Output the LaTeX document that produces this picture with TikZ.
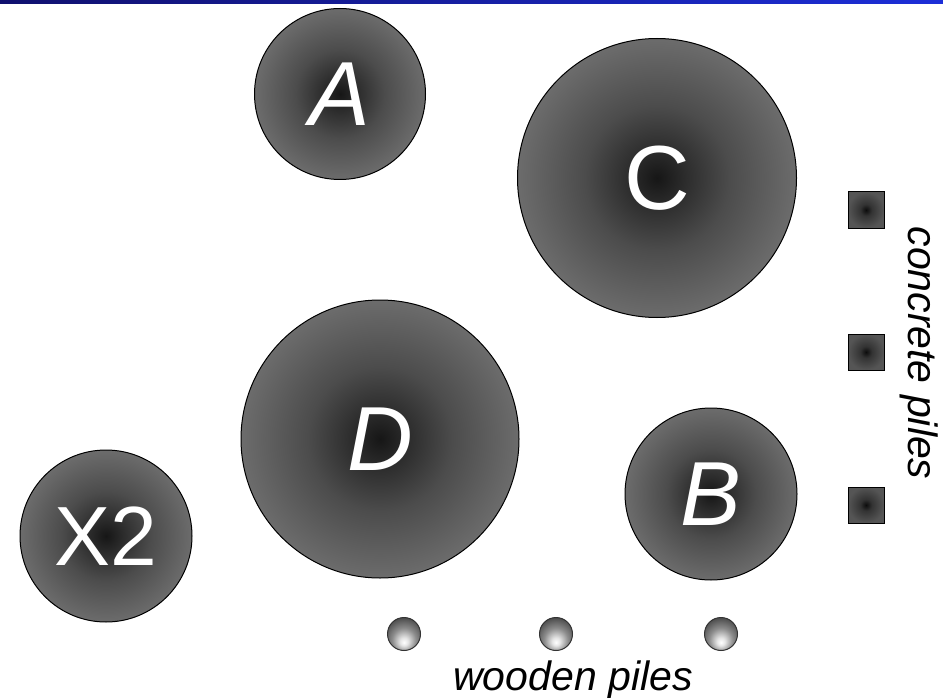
\documentclass[tikz,border=0pt]{standalone}
\usepackage{fontspec}
\setmainfont{Liberation Sans}
\definecolor{pc0}{HTML}{161616}
\definecolor{pc1}{HTML}{2C2C2C}
\definecolor{pc2}{HTML}{4C4C4C}
\definecolor{pc3}{HTML}{6C6C6C}
\definecolor{sq0}{HTML}{0C0C0C}
\definecolor{sq1}{HTML}{333333}
\definecolor{sq2}{HTML}{555555}
\definecolor{barL}{HTML}{10106E}
\definecolor{barR}{HTML}{1C2ED8}
\pgfdeclareradialshading{pileshade}{\pgfpoint{0bp}{0bp}}{color(0bp)=(pc0); color(5bp)=(pc1); color(13bp)=(pc2); color(25bp)=(pc3); color(50bp)=(pc3)}
\pgfdeclareradialshading{sqshade}{\pgfpoint{0bp}{0bp}}{color(0bp)=(sq0); color(8bp)=(sq1); color(25bp)=(sq2); color(50bp)=(sq2)}
\pgfdeclareradialshading{woodshade}{\pgfpoint{0bp}{-13bp}}{color(0bp)=(white); color(6bp)=(white!90!black); color(18bp)=(black!45); color(32bp)=(black!72); color(60bp)=(black!72)}
\tikzset{
  disc/.style={circle, draw=black, line width=1pt, shading=pileshade, inner sep=0pt, text=white},
  bigtxt/.style={font=\fontsize{91}{91}\selectfont\itshape},
  uptxt/.style={font=\fontsize{91}{91}\selectfont},
  cpile/.style={rectangle, draw=black, line width=1pt, shading=sqshade, minimum size=36pt, inner sep=0pt},
  wpile/.style={circle, draw=black!80, line width=1pt, shading=woodshade, minimum size=33pt, inner sep=0pt},
  lbl/.style={font=\fontsize{41}{41}\selectfont\itshape, inner sep=0pt}
}
\begin{document}
\begin{tikzpicture}[x=1pt,y=-1pt]
\useasboundingbox (0,0) rectangle (943,698);
\fill[white] (0,0) rectangle (943,698);
\shade[left color=barL, right color=barR] (0,0) rectangle (943,3.5);
\node[disc, minimum size=171pt, bigtxt] (A) at (340,94) {A};
\node[disc, minimum size=279pt, uptxt] (C) at (657,178) {C};
\node[disc, minimum size=278pt, bigtxt] (D) at (380,439) {D};
\node[disc, minimum size=172pt, bigtxt] (B) at (711,494) {B};
\node[disc, minimum size=172pt, font=\fontsize{84}{84}\selectfont] (X2) at (106,536) {X2};
\node[cpile] (cp1) at (866,210) {};
\node[cpile] (cp2) at (866,352) {};
\node[cpile] (cp3) at (866,505) {};
\node[wpile] (wp1) at (404,634) {};
\node[wpile] (wp2) at (556,634) {};
\node[wpile] (wp3) at (721,634) {};
\node[lbl, anchor=base] (wlab) at (573,690) {wooden piles};
\node[lbl, anchor=base, rotate=-90] (clab) at (908,353) {concrete piles};
\end{tikzpicture}
\end{document}
